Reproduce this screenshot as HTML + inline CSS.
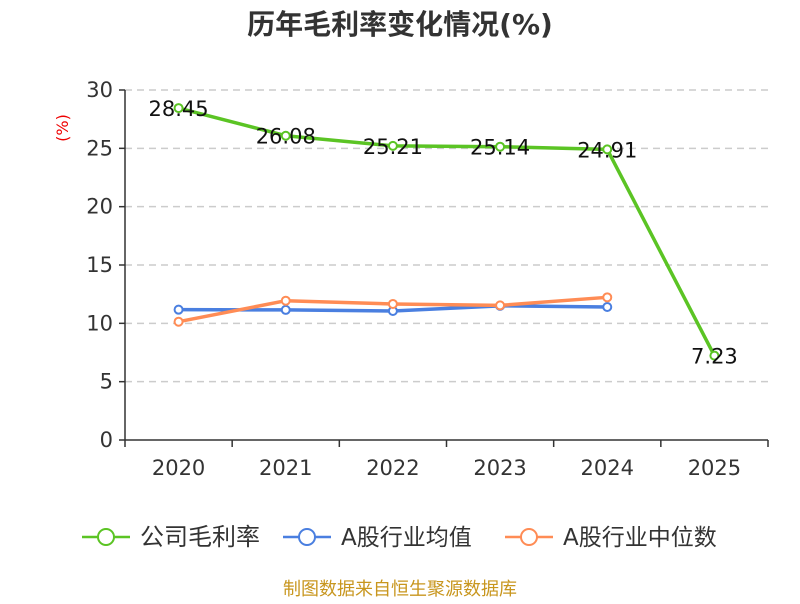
<!DOCTYPE html>
<html><head><meta charset="utf-8"><style>
body{margin:0;background:#fff;font-family:"DejaVu Sans","Noto Sans CJK SC",sans-serif}
svg text{font-family:"DejaVu Sans","Noto Sans CJK SC",sans-serif}
</style></head><body>
<svg id="c" width="800" height="600" xmlns="http://www.w3.org/2000/svg">
<text x="400" y="34" text-anchor="middle" font-size="28" font-weight="bold" fill="#333">历年毛利率变化情况(%)</text>
<text x="68" y="128" text-anchor="middle" font-size="16" fill="#e00" transform="rotate(-90 68 128)">(%)</text>
<g id="grid"></g><g id="axes"></g><g id="series"></g>
<g>
<g><line x1="82" y1="537" x2="130" y2="537" stroke="#5bc424" stroke-width="2.5"/><circle cx="106" cy="537" r="8" fill="#fff" stroke="#5bc424" stroke-width="2"/><text x="140" y="545" font-size="24" fill="#333">公司毛利率</text></g>
<g><line x1="283" y1="537" x2="331" y2="537" stroke="#4a7fe0" stroke-width="2.5"/><circle cx="307" cy="537" r="8" fill="#fff" stroke="#4a7fe0" stroke-width="2"/><text x="341" y="545" font-size="23" fill="#333">A股行业均值</text></g>
<g><line x1="505" y1="537" x2="553" y2="537" stroke="#ff8c55" stroke-width="2.5"/><circle cx="529" cy="537" r="8" fill="#fff" stroke="#ff8c55" stroke-width="2"/><text x="563" y="545" font-size="23" fill="#333">A股行业中位数</text></g>
</g>
<text x="400" y="595" text-anchor="middle" font-size="18" fill="#c8961e">制图数据来自恒生聚源数据库</text>
</svg>
<script>
const categories=["2020","2021","2022","2023","2024","2025"];
const grossMargin=[28.45,26.08,25.21,25.14,24.91,7.23];
const industryMean=[11.17,11.15,11.06,11.5,11.4];
const industryMedian=[10.14,11.94,11.66,11.54,12.23];
const yTicks=[0,5,10,15,20,25,30];
const NS="http://www.w3.org/2000/svg";
const x0=125,x1=768,y0=440,yTop=90,yMax=30;
const bw=(x1-x0)/categories.length;
const xs=i=>x0+bw*(i+0.5);
const ys=v=>y0-(v/yMax)*(y0-yTop);
function mk(p,tag,a){const e=document.createElementNS(NS,tag);for(const k in a)e.setAttribute(k,a[k]);p.appendChild(e);return e;}
const grid=document.getElementById('grid'),axes=document.getElementById('axes'),ser=document.getElementById('series');
yTicks.forEach(t=>{
  const y=ys(t);
  if(t>0){const g=mk(grid,'line',{x1:x0,x2:x1,y1:y,y2:y,stroke:'#ccc','stroke-width':1.5,'stroke-dasharray':'7,5'});
  
  }
  const tk=mk(axes,'line',{x1:x0-6,x2:x0,y1:y,y2:y,stroke:'#333','stroke-width':1.5});
  
  
  const tx=mk(axes,'text',{x:x0-12,y:y+7,'text-anchor':'end','font-size':21,fill:'#333'});tx.textContent=t;
  
  
});
const ya=mk(axes,'line',{x1:x0,x2:x0,y1:yTop,y2:y0,stroke:'#333','stroke-width':1.5});


const xa=mk(axes,'line',{x1:x0,x2:x1,y1:y0,y2:y0,stroke:'#333','stroke-width':1.5});


for(let i=0;i<=categories.length;i++){const t=mk(axes,'line',{x1:x0+bw*i,x2:x0+bw*i,y1:y0,y2:y0+7,stroke:'#333','stroke-width':1.5});

}
categories.forEach((c,i)=>{const t=mk(axes,'text',{x:xs(i),y:y0+35,'text-anchor':'middle','font-size':21,fill:'#333'});t.textContent=c;

});
function line(data,color,name,labels){
  const g=mk(ser,'g',{});
  
  
  mk(g,'polyline',{points:data.map((v,i)=>xs(i)+','+ys(v)).join(' '),fill:'none',stroke:color,'stroke-width':3.5,'stroke-linejoin':'round'});
  data.forEach((v,i)=>{const c=mk(g,'circle',{cx:xs(i),cy:ys(v),r:4,fill:'#fff',stroke:color,'stroke-width':2});
    
    
    if(labels){const t=mk(g,'text',{x:xs(i),y:ys(v)+8,'text-anchor':'middle','font-size':21,fill:'#111'});t.textContent=v.toFixed(2);
    
    }});
}
line(industryMean,'#4a7fe0','industry-mean-series',false);
line(industryMedian,'#ff8c55','industry-median-series',false);
line(grossMargin,'#5bc424','gross-margin-series',true);
</script>
</body></html>
